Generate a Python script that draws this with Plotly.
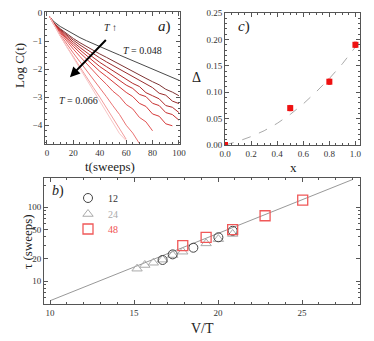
import plotly.graph_objects as go

# ---- panel a: log C(t) relaxation curves ----
t_sweeps = [2, 5, 10, 15, 20, 25, 30, 35, 40, 45, 50, 55, 60, 65, 70, 75, 80, 85, 90, 95, 100]
logc_curves = [
    [-0.13, -0.30, -0.48, -0.62, -0.75, -0.88, -0.99, -1.10, -1.20, -1.30, -1.40, -1.50, -1.60, -1.70, -1.79, -1.89, -1.99, -2.08, -2.18, -2.29, -2.40],
    [-0.13, -0.34, -0.56, -0.74, -0.91, -1.06, -1.20, -1.33, -1.46, -1.58, -1.71, -1.83, -1.95, -2.08, -2.20, -2.33, -2.45, -2.56, -2.72, -2.82, -2.95],
    [-0.13, -0.35, -0.59, -0.79, -0.97, -1.14, -1.30, -1.45, -1.60, -1.74, -1.87, -2.01, -2.14, -2.28, -2.42, -2.55, -2.66, -2.86, -2.93, -3.14, -3.23],
    [-0.13, -0.36, -0.61, -0.84, -1.04, -1.23, -1.41, -1.59, -1.76, -1.91, -2.06, -2.21, -2.36, -2.51, -2.62, -2.84, -2.95, -3.06, -3.30, -3.36, -3.55],
    [-0.13, -0.36, -0.64, -0.88, -1.11, -1.32, -1.52, -1.72, -1.91, -2.07, -2.23, -2.39, -2.57, -2.69, -2.90, -2.98, -3.22, -3.30, -3.55, -3.62, -3.82],
    [-0.13, -0.37, -0.67, -0.94, -1.19, -1.42, -1.65, -1.87, -2.08, -2.26, -2.45, -2.63, -2.83, -2.98, -3.22, -3.33, -3.60, -3.68, -3.95, -4.02],
    [-0.13, -0.38, -0.71, -1.01, -1.29, -1.55, -1.81, -2.06, -2.31, -2.54, -2.79, -2.98, -3.26, -3.42, -3.72, -3.88, -4.20],
    [-0.13, -0.40, -0.77, -1.11, -1.43, -1.74, -2.05, -2.35, -2.64, -2.98, -3.31, -3.62, -4.00, -4.28, -4.65],
    [-0.13, -0.41, -0.82, -1.20, -1.57, -1.94, -2.30, -2.65, -3.00, -3.38, -3.75, -4.15, -4.50],
    [-0.13, -0.40, -0.81, -1.21, -1.60, -1.99, -2.37, -2.75, -3.12, -3.53, -3.94, -4.30, -4.55],
]
curve_colors = ["#4a4a4a", "#7e3434", "#9a2c2c", "#b02a2a", "#c63030", "#d63a3a",
                "#e25454", "#ea7474", "#f29c9c", "#f8c6c6"]

# ---- panel c: gap vs x ----
x_pts = [0.0, 0.5, 0.8, 1.0]
delta_pts = [0.0, 0.07, 0.12, 0.19]
delta_err = [0.002, 0.005, 0.005, 0.005]
fit_x = [0.0, 0.1, 0.2, 0.3, 0.4, 0.5, 0.6, 0.7, 0.8, 0.9, 1.0, 1.035]
fit_delta = [0.0, 0.007, 0.016, 0.027, 0.041, 0.058, 0.078, 0.101, 0.126, 0.154, 0.186, 0.198]

# ---- panel b: tau vs V/T ----
vt_12 = [16.7, 17.3, 18.53, 20.02, 20.87]
tau_12 = [19.3, 23.0, 28.3, 39.2, 48.0]
vt_24 = [15.18, 15.64, 16.15, 16.7, 17.3, 17.9, 19.29, 20.02, 20.87]
tau_24 = [14.7, 16.5, 17.7, 19.5, 22.5, 25.0, 32.4, 37.0, 43.5]
vt_48 = [17.9, 19.29, 20.87, 22.8, 25.04]
tau_48 = [30.3, 39.0, 49.8, 76.9, 125.6]
line_vt = [10.0, 28.0]
line_tau = [5.4, 238.0]

SERIF = "Liberation Serif"
FRAME = "#555555"

# the page body adds an 8px offset, so the figure is drawn 8px in from the window edge
OFF = 8
W, H = 374 - OFF, 341 - OFF


def px(X):
    return (X - OFF) / W


def py(Y):
    return 1 - (Y - OFF) / H


fig = go.Figure()

for ys, col in zip(logc_curves, curve_colors):
    fig.add_trace(go.Scatter(x=t_sweeps[:len(ys)], y=ys, mode="lines",
                             line=dict(color=col, width=1), showlegend=False,
                             xaxis="x", yaxis="y"))

fig.add_trace(go.Scatter(x=fit_x, y=fit_delta, mode="lines",
                         line=dict(color="#aaaaaa", width=1, dash="dash"),
                         showlegend=False, xaxis="x2", yaxis="y2"))
fig.add_trace(go.Scatter(x=x_pts, y=delta_pts, mode="markers",
                         marker=dict(symbol="square", size=6, color="#ee1111"),
                         error_y=dict(type="data", array=delta_err, color="#ee3333",
                                      thickness=1, width=1.5),
                         showlegend=False, xaxis="x2", yaxis="y2", cliponaxis=True))

fig.add_trace(go.Scatter(x=line_vt, y=line_tau, mode="lines",
                         line=dict(color="#999999", width=1),
                         showlegend=False, xaxis="x3", yaxis="y3"))
fig.add_trace(go.Scatter(x=vt_24, y=tau_24, mode="markers", name="<span style='color:#aaaaaa'>24</span>",
                         marker=dict(symbol="triangle-up-open", size=9, color="#aaaaaa",
                                     line=dict(width=1)),
                         xaxis="x3", yaxis="y3", legend="legend2"))
fig.add_trace(go.Scatter(x=vt_12, y=tau_12, mode="markers", name="<span style='color:#333333'>12</span>",
                         marker=dict(symbol="circle-open", size=9, color="#444444",
                                     line=dict(width=1)),
                         xaxis="x3", yaxis="y3", legend="legend"))
fig.add_trace(go.Scatter(x=vt_48, y=tau_48, mode="markers", name="<span style='color:#f05050'>48</span>",
                         marker=dict(symbol="square-open", size=10, color="#f05858",
                                     line=dict(width=1.3)),
                         xaxis="x3", yaxis="y3", legend="legend3"))

tickfont = dict(family=SERIF, size=9, color="#333333")
axis_common = dict(showline=True, linecolor=FRAME, linewidth=1, mirror="allticks",
                   ticks="inside", ticklen=4, tickcolor=FRAME, showgrid=False,
                   zeroline=False, tickfont=tickfont, automargin=False,
                   ticklabeloverflow="allow")


def legend_at(Y):
    # one legend box per entry so the rows can sit as tightly as in the reference
    return dict(x=px(68), y=py(Y), xanchor="left", yanchor="middle",
                bgcolor="rgba(0,0,0,0)", font=dict(family=SERIF, size=10), itemwidth=30)


fig.update_layout(
    template="none",
    width=W, height=H,
    margin=dict(l=0, r=0, t=0, b=0, autoexpand=False),
    paper_bgcolor="white", plot_bgcolor="white",
    font=dict(family=SERIF, color="#222222"),
    xaxis=dict(domain=[px(45), px(180)], range=[-1.5, 100.8], dtick=20, anchor="y",
               minor=dict(ticks="inside", ticklen=2, dtick=5, tickcolor=FRAME), **axis_common),
    yaxis=dict(domain=[py(144), py(12)], range=[-4.67, 0.035], dtick=1, anchor="x",
               minor=dict(ticks="inside", ticklen=2, dtick=0.2, tickcolor=FRAME), **axis_common),
    xaxis2=dict(domain=[px(225), px(360)], range=[0, 1.035], dtick=0.2, tickformat=".1f", anchor="y2",
                minor=dict(ticks="inside", ticklen=2, dtick=0.05, tickcolor=FRAME), **axis_common),
    yaxis2=dict(domain=[py(145), py(13)], range=[0, 0.2503], dtick=0.05, tickformat=".2f", anchor="x2",
                minor=dict(ticks="inside", ticklen=2, dtick=0.01, tickcolor=FRAME), **axis_common),
    xaxis3=dict(domain=[px(44), px(360)], range=[9.64, 28.45], dtick=5, anchor="y3",
                minor=dict(ticks="inside", ticklen=2, dtick=1, tickcolor=FRAME), **axis_common),
    yaxis3=dict(domain=[py(304), py(178)], type="log", range=[0.688, 2.398], anchor="x3",
                tickvals=[10, 20, 50, 100],
                minor=dict(ticks="inside", ticklen=2, tickcolor=FRAME,
                           tickvals=[6, 7, 8, 9, 30, 40, 60, 70, 80, 90, 200]),
                **axis_common),
    legend=legend_at(198),
    legend2=legend_at(214),
    legend3=legend_at(229),
)

title_font = dict(family=SERIF, size=13, color="#222222")
annos = [
    (20, 66, "Log C(t)", -90, title_font),
    (110, 166, "t(sweeps)", 0, title_font),
    (293, 167, "x", 0, title_font),
    (196, 77, "Δ", 0, dict(family=SERIF, size=14, color="#222222")),
    (27, 242, "τ (sweeps)", -90, title_font),
    (202, 328, "V/T", 0, dict(family=SERIF, size=14, color="#222222")),
    (164, 26, "<i>a</i>)", 0, dict(family=SERIF, size=15, color="#222222")),
    (244, 26, "<i>c</i>)", 0, dict(family=SERIF, size=15, color="#222222")),
    (58, 191, "<i>b</i>)", 0, dict(family=SERIF, size=14, color="#222222")),
    (111, 28, "<i>T</i> ↑", 0, dict(family=SERIF, size=10, color="#222222")),
    (142, 50, "<i>T</i> = 0.048", 0, dict(family=SERIF, size=10, color="#222222")),
    (78, 100, "<i>T</i> = 0.066", 0, dict(family=SERIF, size=10, color="#222222")),
]
for X, Y, txt, ang, fnt in annos:
    fig.add_annotation(x=px(X), y=py(Y), text=txt, textangle=ang, font=fnt,
                       xref="paper", yref="paper", showarrow=False,
                       xanchor="center", yanchor="middle")

# arrow showing increasing T
fig.add_annotation(x=17.4, y=-2.29, ax=45.7, ay=-0.91, xref="x", yref="y", axref="x", ayref="y",
                   showarrow=True, arrowhead=2, arrowsize=1, arrowwidth=2, arrowcolor="black", text="")

fig.write_html("out.html")
